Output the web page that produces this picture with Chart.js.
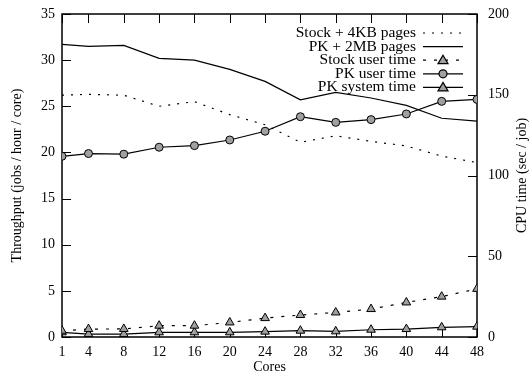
<!DOCTYPE html>
<html>
<head>
<meta charset="utf-8">
<script src="https://cdn.jsdelivr.net/npm/chart.js@4"></script>
<style>
  html, body { margin: 0; padding: 0; background: #fff; }
  #wrap { width: 531px; height: 375px; }
</style>
</head>
<body>
<div id="wrap"><canvas id="chart"></canvas></div>
<script>
// data
const cores = [1, 4, 8, 12, 16, 20, 24, 28, 32, 36, 40, 44, 48];
const stock4kb = [26.2, 26.3, 26.2, 25.0, 25.5, 24.1, 23.0, 21.1, 21.8, 21.2, 20.7, 19.6, 18.9];
const pk2mb = [31.7, 31.5, 31.6, 30.2, 30.0, 29.0, 27.7, 25.7, 26.5, 25.9, 25.1, 23.7, 23.4];
const stockUser = [3.9, 4.9, 5.0, 7.0, 7.0, 9.0, 11.7, 13.6, 15.2, 17.3, 21.4, 25.0, 29.8];
const pkUser = [111.9, 113.6, 113.2, 117.5, 118.5, 122.0, 127.4, 136.4, 132.9, 134.6, 138.1, 145.9, 147.1];
const pkSystem = [2.9, 1.8, 1.8, 2.9, 2.9, 2.9, 3.3, 3.9, 3.5, 4.5, 4.9, 6.0, 6.4];
const leftTicks = [0, 5, 10, 15, 20, 25, 30, 35];
const rightTicks = [0, 50, 100, 150, 200];

const pts = (arr) => arr.map((v, i) => ({ x: cores[i], y: v }));
const grey = '#a0a0a0';

Chart.defaults.font.family = "'Liberation Serif', 'DejaVu Serif', serif";
Chart.defaults.font.size = 14;
Chart.defaults.color = '#000';

// gnuplot style frame: box with inward ticks
const framePlugin = {
    id: 'frame',
    beforeDatasetsDraw(chart) {
        const { ctx, chartArea: a, scales } = chart;
        const t = 9;
        ctx.save();
        ctx.strokeStyle = '#000';
        ctx.lineWidth = 1;
        cores.forEach(v => {
            const x = Math.round(scales.x.getPixelForValue(v)) + 0.5;
            ctx.beginPath();
            ctx.moveTo(x, a.top); ctx.lineTo(x, a.top + t);
            ctx.moveTo(x, a.bottom); ctx.lineTo(x, a.bottom - t);
            ctx.stroke();
        });
        leftTicks.forEach(v => {
            const y = Math.round(scales.y.getPixelForValue(v)) + 0.5;
            ctx.beginPath();
            ctx.moveTo(a.left, y); ctx.lineTo(a.left + t, y);
            ctx.stroke();
        });
        rightTicks.forEach(v => {
            const y = Math.round(scales.y2.getPixelForValue(v)) + 0.5;
            ctx.beginPath();
            ctx.moveTo(a.right, y); ctx.lineTo(a.right - t, y);
            ctx.stroke();
        });
        ctx.lineWidth = 1.5;
        ctx.strokeRect(a.left, a.top, a.right - a.left, a.bottom - a.top);
        ctx.restore();
    },
    afterDraw(chart) {
        const { ctx, chartArea: a } = chart;
        ctx.save();
        ctx.fillStyle = '#000';
        ctx.font = "14px 'Liberation Serif', serif";
        ctx.textAlign = 'center';
        ctx.textBaseline = 'middle';
        ctx.fillText('Cores', (a.left + a.right) / 2, 367);
        ctx.save();
        ctx.translate(17, (a.top + a.bottom) / 2);
        ctx.rotate(-Math.PI / 2);
        ctx.fillText('Throughput (jobs / hour / core)', 0, 0);
        ctx.restore();
        ctx.save();
        ctx.translate(522, (a.top + a.bottom) / 2);
        ctx.rotate(-Math.PI / 2);
        ctx.fillText('CPU time (sec / job)', 0, 0);
        ctx.restore();

        // legend, text right aligned with sample on the right
        ctx.font = "15.5px 'Liberation Serif', serif";
        ctx.textAlign = 'right';
        chart.data.datasets.forEach((ds, i) => {
            const y = 33 + i * 13.6;
            ctx.fillText(ds.label, 416, y);
            ctx.strokeStyle = '#000';
            ctx.lineWidth = 1.2;
            ctx.setLineDash(ds.borderDash || []);
            ctx.beginPath();
            ctx.moveTo(423, y); ctx.lineTo(463, y);
            ctx.stroke();
            ctx.setLineDash([]);
            if (ds.pointRadius > 0) {
                ctx.fillStyle = grey;
                ctx.beginPath();
                if (ds.pointStyle === 'circle') {
                    ctx.arc(443, y, ds.pointRadius, 0, Math.PI * 2);
                } else {
                    const r = ds.pointRadius;
                    ctx.moveTo(443, y - r);
                    ctx.lineTo(443 + r, y + r * 0.7);
                    ctx.lineTo(443 - r, y + r * 0.7);
                    ctx.closePath();
                }
                ctx.fill();
                ctx.stroke();
                ctx.fillStyle = '#000';
            }
        });
        ctx.restore();
    }
};

// fixed box sizes so the plot area lands where the original has it
const fixBox = (w, h) => (s) => {
    if (w !== null) s.width = w;
    if (h !== null) s.height = h;
    s.paddingTop = 0; s.paddingBottom = 0;
    s.paddingLeft = 0; s.paddingRight = 0;
};

new Chart(document.getElementById('chart'), {
    type: 'line',
    data: {
        datasets: [
            {
                label: 'Stock + 4KB pages',
                data: pts(stock4kb),
                yAxisID: 'y',
                borderColor: '#000',
                borderWidth: 1.2,
                borderDash: [2, 7],
                pointRadius: 0
            },
            {
                label: 'PK + 2MB pages',
                data: pts(pk2mb),
                yAxisID: 'y',
                borderColor: '#000',
                borderWidth: 1.2,
                pointRadius: 0
            },
            {
                label: 'Stock user time',
                data: pts(stockUser),
                yAxisID: 'y2',
                borderColor: '#000',
                borderWidth: 1.2,
                borderDash: [3, 8],
                pointStyle: 'triangle',
                pointRadius: 5,
                pointBackgroundColor: grey,
                pointBorderColor: '#000',
                pointBorderWidth: 1
            },
            {
                label: 'PK user time',
                data: pts(pkUser),
                yAxisID: 'y2',
                borderColor: '#000',
                borderWidth: 1.2,
                pointStyle: 'circle',
                pointRadius: 4,
                pointBackgroundColor: grey,
                pointBorderColor: '#000',
                pointBorderWidth: 1
            },
            {
                label: 'PK system time',
                data: pts(pkSystem),
                yAxisID: 'y2',
                borderColor: '#000',
                borderWidth: 1.2,
                pointStyle: 'triangle',
                pointRadius: 5,
                pointBackgroundColor: grey,
                pointBorderColor: '#000',
                pointBorderWidth: 1
            }
        ]
    },
    options: {
        responsive: true,
        maintainAspectRatio: false,
        animation: false,
        layout: { padding: { top: 14, left: 0, right: 0, bottom: 0 } },
        plugins: {
            legend: { display: false },
            tooltip: { enabled: false }
        },
        scales: {
            x: {
                type: 'linear',
                min: 1,
                max: 48,
                afterBuildTicks: (s) => { s.ticks = cores.map(v => ({ value: v })); },
                afterFit: fixBox(null, 38),
                grid: { display: false, drawTicks: false },
                border: { display: false },
                ticks: { padding: 7, maxRotation: 0, autoSkip: false }
            },
            y: {
                position: 'left',
                min: 0,
                max: 35,
                afterBuildTicks: (s) => { s.ticks = leftTicks.map(v => ({ value: v })); },
                afterFit: fixBox(62, null),
                grid: { display: false, drawTicks: false },
                border: { display: false },
                ticks: { padding: 7 }
            },
            y2: {
                position: 'right',
                min: 0,
                max: 200,
                afterBuildTicks: (s) => { s.ticks = rightTicks.map(v => ({ value: v })); },
                afterFit: fixBox(54, null),
                grid: { display: false, drawTicks: false },
                border: { display: false },
                ticks: { padding: 11 }
            }
        }
    },
    plugins: [framePlugin]
});
</script>
</body>
</html>
